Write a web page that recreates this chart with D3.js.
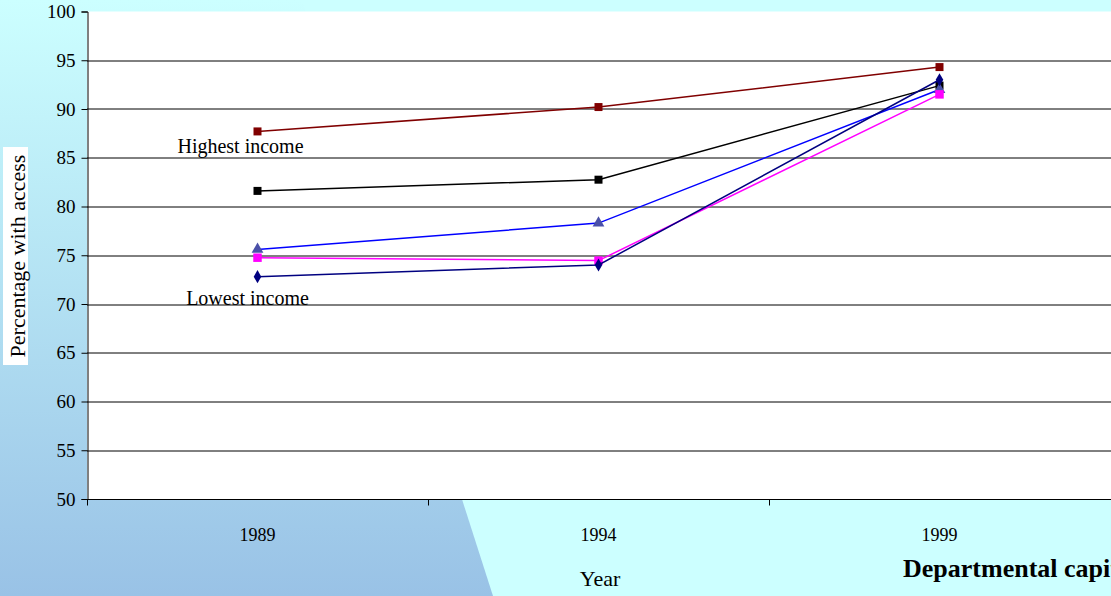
<!DOCTYPE html>
<html>
<head>
<meta charset="utf-8">
<script src="https://cdn.jsdelivr.net/npm/d3@7"></script>
<style>
  body { margin: 0; overflow: hidden; }
  svg { display: block; font-family: 'Liberation Serif', 'Times New Roman', serif; }
</style>
</head>
<body>
<div id="svg-container"></div>
<script>
const years = ['1989', '1994', '1999']
const yTicks = [50, 55, 60, 65, 70, 75, 80, 85, 90, 95, 100]

const highestIncome = [87.7, 90.2, 94.3]
const secondQuintile = [81.6, 82.75, 92.4]
const middleQuintile = [75.6, 78.3, 92.0]
const fourthQuintile = [74.75, 74.45, 91.5]
const lowestIncome = [72.8, 74.0, 93.0]

const series = [
  { name: 'highest', values: highestIncome, line: '#800000', fill: '#800000', shape: d3.symbolSquare, size: 64 },
  { name: 'q2', values: secondQuintile, line: '#000000', fill: '#000000', shape: d3.symbolSquare, size: 64 },
  { name: 'q3', values: middleQuintile, line: '#0000ff', fill: '#4a50a8', shape: d3.symbolTriangle, size: 60 },
  { name: 'q4', values: fourthQuintile, line: '#ff00ff', fill: '#ff00ff', shape: d3.symbolSquare, size: 72 },
  { name: 'lowest', values: lowestIncome, line: '#000080', fill: '#000080', shape: d3.symbolDiamond, size: 50 },
]

const svgWidth = 1111
const svgHeight = 596
const marginLeft = 87
const marginTop = 11.5
const plotWidth = 1023
const plotHeight = 487.5

const svg = d3
  .select('#svg-container')
  .append('svg')
  .attr('width', svgWidth)
  .attr('height', svgHeight)

// background
const defs = svg.append('defs')
const grad = defs
  .append('linearGradient')
  .attr('id', 'bg-grad')
  .attr('x1', 0).attr('y1', 0).attr('x2', 0).attr('y2', 1)
grad.append('stop').attr('offset', '0%').attr('stop-color', '#ccffff')
grad.append('stop').attr('offset', '100%').attr('stop-color', '#99c2e6')

svg.append('rect').attr('width', svgWidth).attr('height', svgHeight).attr('fill', '#ccffff')
svg
  .append('path')
  .attr('d', 'M0,0 L302,0 L493,596 L0,596 Z')
  .attr('fill', 'url(#bg-grad)')

const coreChart = svg
  .append('g')
  .attr('transform', `translate(${marginLeft}, ${marginTop})`)

coreChart
  .append('rect')
  .attr('width', plotWidth + 2)
  .attr('height', plotHeight)
  .attr('fill', '#ffffff')

const xScale = d3.scaleBand().domain(years).range([0, plotWidth])
const yScale = d3.scaleLinear().domain([50, 100]).range([plotHeight, 0])

// grid lines
coreChart
  .append('g')
  .selectAll('line')
  .data(yTicks.filter(t => t > 50 && t < 100))
  .join('line')
  .attr('x1', 0)
  .attr('x2', plotWidth + 2)
  .attr('y1', d => Math.round(yScale(d)) + 0.5)
  .attr('y2', d => Math.round(yScale(d)) + 0.5)
  .attr('stroke', '#000')
  .attr('stroke-width', 1)

// y-axis
const yAxis = coreChart.append('g').attr('transform', 'translate(0.5, 0)')
yAxis
  .call(d3.axisLeft(yScale).tickValues(yTicks).tickSize(6).tickPadding(6))
  .call(g => g.select('.domain').attr('stroke', '#000'))
  .call(g =>
    g
      .selectAll('.tick text')
      .style('font-size', '19px')
      .style('font-family', "'Liberation Serif', serif")
      .attr('fill', '#000'),
  )

// x-axis
const xAxis = coreChart
  .append('g')
  .attr('transform', `translate(0, ${plotHeight + 0.5})`)
xAxis
  .append('line')
  .attr('x1', 0)
  .attr('x2', plotWidth + 2)
  .attr('stroke', '#000')
xAxis
  .selectAll('.xtick')
  .data([0, 1, 2])
  .join('line')
  .attr('x1', i => Math.round(xScale.step() * i) + 0.5)
  .attr('x2', i => Math.round(xScale.step() * i) + 0.5)
  .attr('y1', 0)
  .attr('y2', 6)
  .attr('stroke', '#000')
xAxis
  .selectAll('.xlabel')
  .data(years)
  .join('text')
  .attr('x', d => xScale(d) + xScale.bandwidth() / 2)
  .attr('y', 41)
  .attr('text-anchor', 'middle')
  .style('font-size', '18px')
  .text(d => d)

svg
  .append('text')
  .attr('x', 600)
  .attr('y', 586)
  .attr('text-anchor', 'middle')
  .style('font-size', '22px')
  .text('Year')

// slide title, cut off at the right edge as in the original
svg
  .append('text')
  .attr('x', 903)
  .attr('y', 577)
  .style('font-size', '26px')
  .style('font-weight', 'bold')
  .text('Departmental capitals')

// y axis title
svg
  .append('rect')
  .attr('x', 3)
  .attr('y', 147)
  .attr('width', 25)
  .attr('height', 218)
  .attr('fill', '#ffffff')
svg
  .append('text')
  .attr('transform', 'translate(25, 256) rotate(-90)')
  .attr('text-anchor', 'middle')
  .style('font-size', '22px')
  .text('Percentage with access')

// lines and markers
const cx = d => xScale(d) + xScale.bandwidth() / 2
const lineGen = d3
  .line()
  .x((v, i) => cx(years[i]))
  .y(v => yScale(v))

const sGroup = coreChart
  .append('g')
  .selectAll('g')
  .data(series)
  .join('g')

sGroup
  .append('path')
  .attr('d', d => lineGen(d.values))
  .attr('fill', 'none')
  .attr('stroke', d => d.line)
  .attr('stroke-width', 1.5)

sGroup
  .selectAll('path.marker')
  .data(d => d.values.map((v, i) => ({ v, i, s: d })))
  .join('path')
  .attr('class', 'marker')
  .attr('d', d => d3.symbol().type(d.s.shape).size(d.s.size)())
  .attr('transform', d => `translate(${cx(years[d.i])}, ${yScale(d.v)})`)
  .attr('fill', d => d.s.fill)

// series labels
coreChart
  .append('text')
  .attr('x', cx('1989') - 17)
  .attr('y', yScale(highestIncome[0]) + 22)
  .attr('text-anchor', 'middle')
  .style('font-size', '20px')
  .text('Highest income')

coreChart
  .append('text')
  .attr('x', cx('1989') - 10)
  .attr('y', yScale(lowestIncome[0]) + 28)
  .attr('text-anchor', 'middle')
  .style('font-size', '20px')
  .text('Lowest income')
</script>
</body>
</html>
